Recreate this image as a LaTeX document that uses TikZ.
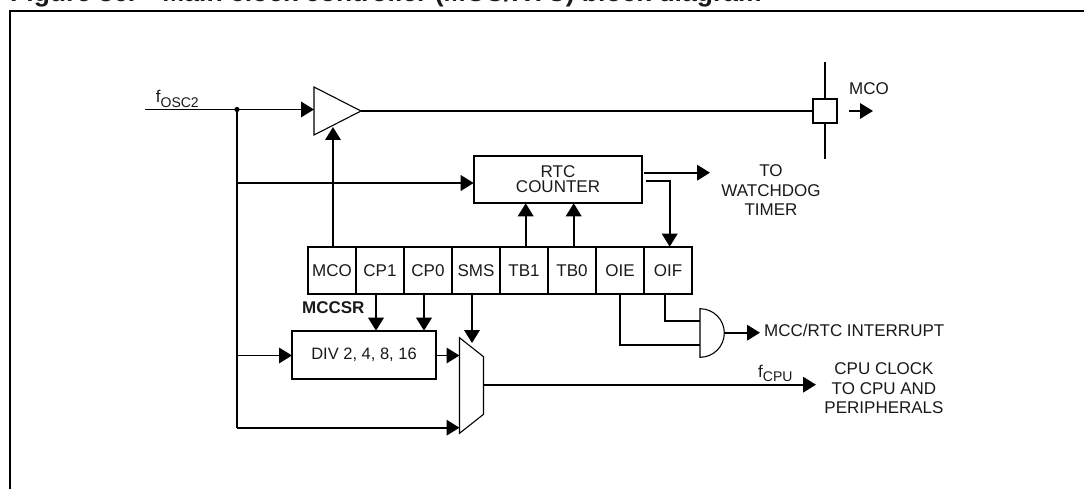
\documentclass[tikz,border=0pt]{standalone}
\usepackage{fontspec}
\setmainfont{Liberation Sans}
\usepackage{tikz}
\usetikzlibrary{arrows.meta,positioning}
\newcommand{\subtext}[1]{\raisebox{-4.3pt}{\fontsize{14}{14}\selectfont #1}}

\begin{document}
\begin{tikzpicture}[x=1pt, y=-1pt, every node/.style={font=\fontsize{17}{19.5}\selectfont, text=black!90}, box/.style={draw=black,line width=1.9pt,inner sep=0pt,outer sep=0pt,align=center}, cell/.style={box,minimum width=48pt,minimum height=47.6pt}, wire/.style={line width=1.9pt}, gate/.style={line width=1.1pt}, lbl/.style={align=center,inner sep=0pt}, >={Triangle[length=13pt,width=15.5pt]}]
\useasboundingbox (0,0) rectangle (1084,489);
\clip (0,0) rectangle (1084,489);
\node[lbl, anchor=base west, font=\fontsize{26.5}{30}\selectfont\bfseries] (title) at (10,2) {Figure 36.\hspace{27pt}Main clock controller (MCC/RTC) block diagram};
\draw[line width=2.4pt] (10,489) -- (10,11) -- (1084,11);
% register
\node[cell, anchor=north west] (mco) at (308,246.7) {MCO};
\node[cell, right=0pt of mco] (cpone) {CP1};
\node[cell, right=0pt of cpone] (cpzero) {CP0};
\node[cell, right=0pt of cpzero] (sms) {SMS};
\node[cell, right=0pt of sms] (tbone) {TB1};
\node[cell, right=0pt of tbone] (tbzero) {TB0};
\node[cell, right=0pt of tbzero] (oie) {OIE};
\node[cell, right=0pt of oie] (oif) {OIF};
\node[lbl, font=\fontsize{17}{19.5}\selectfont\bfseries] (mccsr) at (333.3,308) {MCCSR};
\node[box, minimum width=168.6pt, minimum height=47.6pt] (rtc) at (558,179.5) {RTC\\[-4.5pt]COUNTER};
\node[box, minimum width=144pt, minimum height=48pt, font=\fontsize{16.5}{19.5}\selectfont] (div) at (364,354.7) {DIV 2, 4, 8, 16};
\node[box, minimum width=24.6pt, minimum height=24.6pt] (pad) at (825,111) {};
% buffer, mux and and gate
\coordinate (bufin) at (314,109.5);
\coordinate (bufsel) at (333,127);
\coordinate (bufout) at (361,111);
\draw[gate] (314,87) -- (bufout) -- (314,135) -- cycle;
\coordinate (muxa) at (459.5,355.5);
\coordinate (muxb) at (459.5,427.7);
\coordinate (muxsel) at (472,343);
\coordinate (muxout) at (483.5,384.7);
\draw[gate] (459.5,337.7) -- (483.5,356.7) -- (483.5,414.3) -- (459.5,433.3) -- cycle;
\coordinate (andf) at (700,321);
\coordinate (ande) at (700,345);
\coordinate (andout) at (725,332.7);
\draw[gate] (700,308.7) arc[start angle=90,end angle=-90,radius=24.3pt] -- cycle;
% texts
\node[lbl, anchor=base west] (fosc) at (155.7,103) {f\subtext{OSC2}};
\node[lbl] (mcolabel) at (869,89) {MCO};
\node[lbl] (watchdog) at (771,190.5) {TO\\WATCHDOG\\TIMER};
\node[lbl, anchor=west] (interrupt) at (764,330) {MCC/RTC INTERRUPT};
\node[lbl, anchor=base west] (fcpu) at (758,377) {f\subtext{CPU}};
\node[lbl] (cpuclock) at (884,388.5) {CPU CLOCK\\TO CPU AND\\PERIPHERALS};
% free ends
\coordinate (foscin) at (145,109.5);
\coordinate (junction) at (237,109.5);
\coordinate (oscrtc) at (237,183);
\coordinate (oscdiv) at (237,355.5);
\coordinate (oscmux) at (237,427.7);
\coordinate (wdfrom) at (644,172.7);
\coordinate (wdto) at (710,172.7);
\coordinate (oiffrom) at (646,180.7);
\coordinate (cpuout) at (816,384.7);
\coordinate (intout) at (760,332.7);
\coordinate (mcofrom) at (849,111);
\coordinate (mcoto) at (873,111);
\coordinate (padtop) at (825,62);
\coordinate (padbot) at (825,159.5);
\draw[wire] (foscin) -- (junction);
\draw[wire,->] (junction) -- (bufin);
\fill (junction) circle (2.6pt);
\draw[wire] (junction) -- (oscmux);
\draw[wire,->] (oscrtc) -- (rtc.west |- oscrtc);
\draw[wire,->] (oscdiv) -- (div.west |- oscdiv);
\draw[wire,->] (oscmux) -- (muxb);
\draw[wire,->] (div.east |- muxa) -- (muxa);
\draw[wire,->] ([xshift=1pt]mco.north) -- (bufsel);
\draw[wire] (bufout) -- (pad.west);
\draw[wire] (padtop) -- (pad.north);
\draw[wire] (pad.south) -- (padbot);
\draw[wire,->] (mcofrom) -- (mcoto);
\draw[wire,->] ([xshift=1.7pt]tbone.north) -- ([xshift=1.7pt]tbone.north |- rtc.south);
\draw[wire,->] ([xshift=1.7pt]tbzero.north) -- ([xshift=1.7pt]tbzero.north |- rtc.south);
\draw[wire,->] (wdfrom) -- (wdto);
\draw[wire,->] (oiffrom) -| ([xshift=1.7pt]oif.north);
\draw[wire,->] ([xshift=-4pt]cpone.south) -- ([xshift=-4pt]cpone.south |- div.north);
\draw[wire,->] ([xshift=-4pt]cpzero.south) -- ([xshift=-4pt]cpzero.south |- div.north);
\draw[wire,->] ([xshift=-4pt]sms.south) -- (muxsel);
\draw[wire] ([xshift=-3pt]oif.south) |- (andf);
\draw[wire] (oie.south) |- (ande);
\draw[wire,->] (andout) -- (intout);
\draw[wire,->] (muxout) -- (cpuout);
\end{tikzpicture}
\end{document}
